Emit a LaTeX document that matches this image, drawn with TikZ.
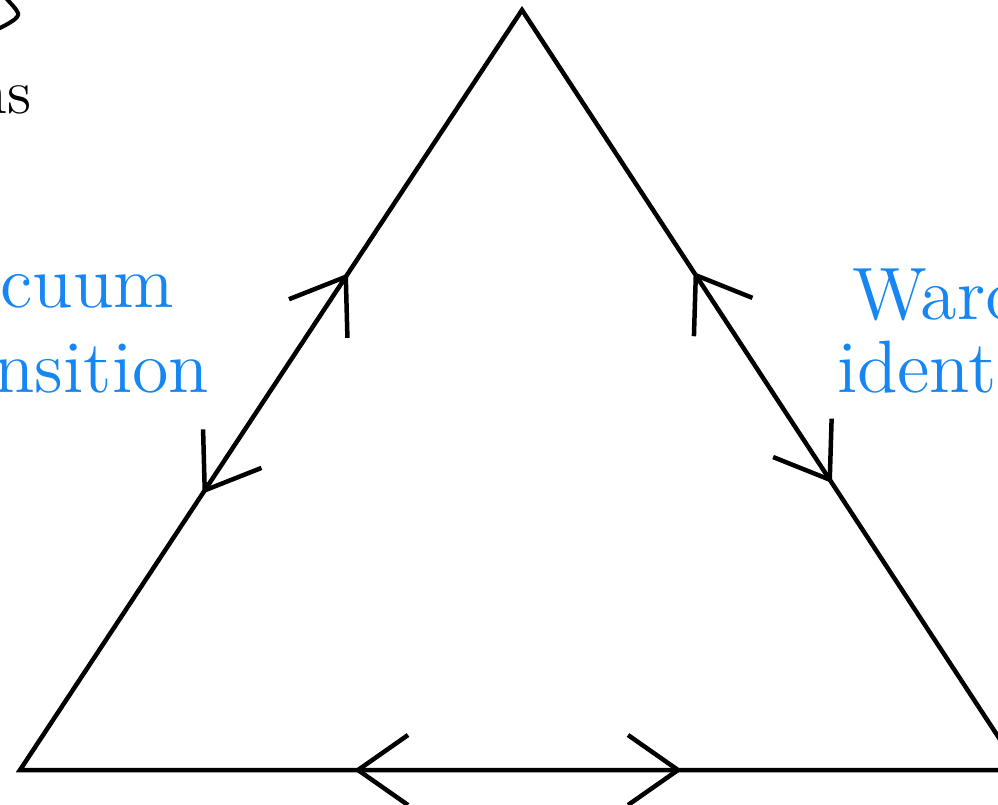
\documentclass[tikz,border=0pt]{standalone}
\usetikzlibrary{decorations.markings}
\definecolor{labelblue}{RGB}{22,134,242}
\tikzset{
  edge/.style={line width=0.9pt, line join=miter},
  barb/.style={line width=0.9pt, line join=miter, line cap=butt},
  fwdbarb/.style={postaction={decorate, decoration={markings,
      mark=at position #1 with {\draw[barb] (-10pt,7pt) -- (0pt,0pt) -- (-10pt,-7pt);}}}},
  bwdbarb/.style={postaction={decorate, decoration={markings,
      mark=at position #1 with {\draw[barb] (10pt,7pt) -- (0pt,0pt) -- (10pt,-7pt);}}}},
  bluelabel/.style={text=labelblue, inner sep=0pt, font=\fontsize{14.85}{18}\selectfont},
  blacklabel/.style={text=black, inner sep=0pt, font=\fontsize{12.5}{15}\selectfont}
}
\begin{document}
\begin{tikzpicture}[x=0.2pt, y=-0.2pt]
  \useasboundingbox (0,0) rectangle (998,804);
  \clip (0,0) rectangle (998,804);
  % vertices
  \coordinate (A) at (20,770);
  \coordinate (T) at (522,10);
  \coordinate (B) at (1020,770);
  % triangle
  \draw[edge] (A) -- (T) -- (B) -- cycle;
  % arrows on the sides
  \path[fwdbarb=0.649, bwdbarb=0.368] (A) -- (T);
  \path[bwdbarb=0.349, fwdbarb=0.618] (T) -- (B);
  \path[bwdbarb=0.338, fwdbarb=0.658] (A) -- (B);
  % labels
  \node[bluelabel, anchor=base east] (vac1) at (175,307) {Vacuum};
  \node[bluelabel, anchor=base east] (vac2) at (210,392) {transition};
  \node[bluelabel, anchor=base west] (ward1) at (851,319) {Ward};
  \node[bluelabel, anchor=base west] (ward2) at (836,392) {identity};
  \node[blacklabel, anchor=base east] (ns) at (33,113) {ns};
  % partial curve at top left
  \draw[line width=0.8pt] (-4,30) .. controls (8,24) and (20,18) .. (18,13) .. controls (16,8) and (10,3) .. (6,-2);
\end{tikzpicture}
\end{document}
